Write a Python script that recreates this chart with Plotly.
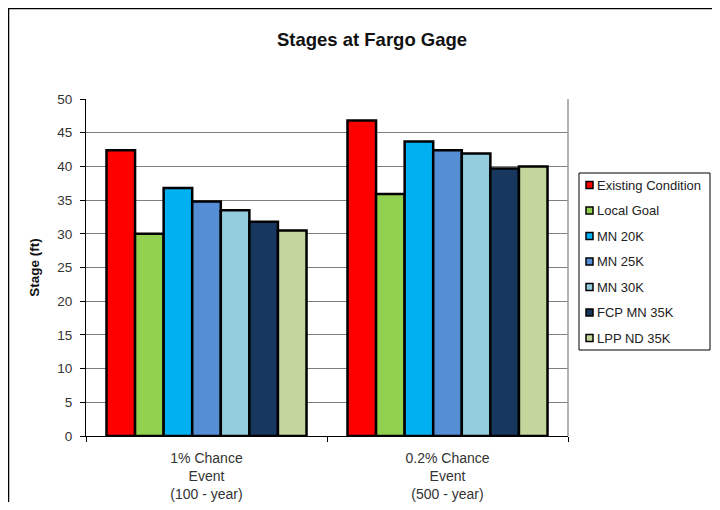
import plotly.graph_objects as go

categories = ["1% Chance<br>Event<br>(100 - year)", "0.2% Chance<br>Event<br>(500 - year)"]
series_names = ["Existing Condition", "Local Goal", "MN 20K", "MN 25K",
                "MN 30K", "FCP MN 35K", "LPP ND 35K"]
existing = [42.4, 46.8]
local_goal = [30.0, 35.9]
mn_20k = [36.8, 43.7]
mn_25k = [34.8, 42.4]
mn_30k = [33.5, 41.9]
fcp_mn_35k = [31.8, 39.7]
lpp_nd_35k = [30.5, 40.0]
y_ticks = [0, 5, 10, 15, 20, 25, 30, 35, 40, 45, 50]

values = [existing, local_goal, mn_20k, mn_25k, mn_30k, fcp_mn_35k, lpp_nd_35k]
colors = ["#FF0000", "#92D050", "#00B0F0", "#558ED5", "#93CDDD", "#17375E", "#C3D69B"]

FONT = "Liberation Sans, Arial, sans-serif"

# The page adds an 8px body margin, so the figure starts at page pixel (8, 8);
# sized so the page does not overflow the 720x510 window.
FW, FH = 704, 494
# plot area in figure pixels: x 78..560, y 91..428
L, R, T, B = 78, 144, 91, 66
W, H = FW - L - R, FH - T - B


def px(xp):
    return (xp - L) / W


def py(yp):
    return (FH - B - yp) / H


fig = go.Figure()
for name, vals, col in zip(series_names, values, colors):
    fig.add_trace(go.Bar(
        x=categories, y=vals, name=name, showlegend=False,
        marker=dict(color=col, line=dict(color="#000000", width=2.5)),
    ))

shapes = [
    # plot area right border
    dict(type="line", xref="paper", yref="paper", x0=1, x1=1, y0=0, y1=1,
         line=dict(color="#999999", width=1.5)),
    # outer chart border (top and left)
    dict(type="line", xref="paper", yref="paper", x0=px(0), x1=px(FW),
         y0=py(0.5), y1=py(0.5), line=dict(color="#000000", width=1.5)),
    dict(type="line", xref="paper", yref="paper", x0=px(0.5), x1=px(0.5),
         y0=py(0), y1=py(FH), line=dict(color="#000000", width=1.5)),
    # legend box
    dict(type="rect", xref="paper", yref="paper", x0=px(571), x1=px(702),
         y0=py(165), y1=py(342), line=dict(color="#000000", width=1),
         fillcolor="white", layer="above"),
]
annotations = []

# hand-drawn legend, Excel style: small bordered swatch right against the text
for i, (name, col) in enumerate(zip(series_names, colors)):
    yc = 177 + i * 25.5
    shapes.append(dict(type="rect", xref="paper", yref="paper",
                       x0=px(578), x1=px(585), y0=py(yc - 3.5), y1=py(yc + 3.5),
                       fillcolor=col, line=dict(color="#000000", width=1.5),
                       layer="above"))
    annotations.append(dict(text=name, xref="paper", yref="paper",
                            x=px(586.5), y=py(yc), xanchor="left", yanchor="middle",
                            showarrow=False,
                            font=dict(size=13, color="#222222", family=FONT)))

fig.update_layout(
    width=FW, height=FH,
    margin=dict(l=L, r=R, t=T, b=B, autoexpand=False),
    paper_bgcolor="white", plot_bgcolor="white",
    font=dict(family=FONT, size=13, color="#222222"),
    barmode="group", bargap=0.17, bargroupgap=0.0,
    showlegend=False,
    title=dict(text="<b>Stages at Fargo Gage</b>", x=px(364), xref="paper",
               xanchor="center", y=1 - 32 / FH, yanchor="middle",
               font=dict(size=18.5, color="#111111")),
    xaxis=dict(showline=True, linecolor="#000000", linewidth=1,
               ticks="outside", ticklen=5, tickcolor="#000000",
               tickson="boundaries", showgrid=False, ticklabelstandoff=9,
               tickfont=dict(size=14, color="#333333")),
    yaxis=dict(range=[0, 50], tickvals=y_ticks, showline=True,
               linecolor="#000000", linewidth=1, ticks="outside",
               ticklen=5, tickcolor="#000000", showgrid=True,
               gridcolor="#808080", gridwidth=1.2, zeroline=False,
               ticklabelstandoff=5,
               tickfont=dict(size=13.5, color="#333333"),
               title=dict(text="<b>Stage (ft)</b>", standoff=14,
                          font=dict(size=13.5, color="#111111"))),
    shapes=shapes,
    annotations=annotations,
)

fig.write_html("out.html")
